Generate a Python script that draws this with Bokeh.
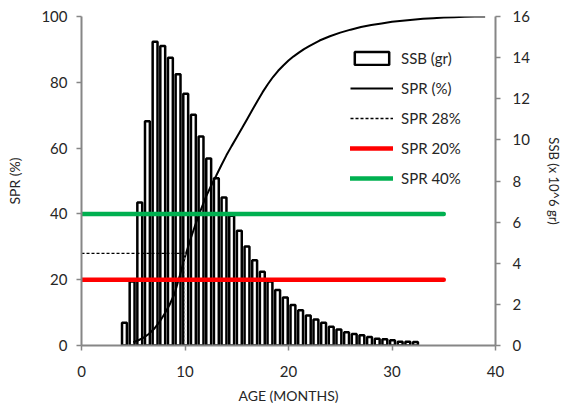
from bokeh.plotting import figure
from bokeh.models import Range1d, LinearAxis, Legend, LegendItem, FixedTicker
from bokeh.embed import file_html
from bokeh.resources import INLINE

# Bars: SSB (x10^6 gr) by age (months)
age_bar = [4.15, 4.89, 5.63, 6.37, 7.11, 7.85, 8.59, 9.33, 10.07, 10.81,
           11.55, 12.29, 13.03, 13.77, 14.51, 15.25, 15.99, 16.73, 17.47, 18.21,
           18.95, 19.69, 20.43, 21.17, 21.91, 22.65, 23.39, 24.13, 24.87, 25.61,
           26.35, 27.09, 27.83, 28.57, 29.31, 30.05, 30.79, 31.53, 32.27]
ssb = [1.11, 3.11, 6.96, 10.91, 14.77, 14.57, 14.0, 13.19, 12.24, 11.22,
       10.16, 9.1, 8.13, 7.2, 6.31, 5.58, 4.81, 4.15, 3.59, 3.11,
       2.70, 2.33, 1.97, 1.72, 1.46, 1.27, 1.11, 0.91, 0.78, 0.65,
       0.56, 0.50, 0.41, 0.33, 0.30, 0.26, 0.18, 0.18, 0.17]

# SPR (%) curve
age_spr = [5, 5.5, 6, 6.5, 7, 7.5, 8, 8.5, 9, 9.5, 10, 10.5, 11, 11.5, 12, 12.5,
           13, 13.5, 14, 14.5, 15, 15.5, 16, 16.5, 17, 17.5, 18, 18.5, 19, 19.5,
           20, 20.5, 21, 21.5, 22, 23, 24, 25, 26, 27, 28, 29, 30, 31, 32, 33,
           34, 35, 36, 37, 38, 39]
spr = [1.0, 1.6, 2.4, 3.5, 5.0, 7.0, 9.5, 12.3, 15.8, 21.3, 27.0, 32.0, 36.7,
       41.0, 45.0, 48.4, 51.5, 54.7, 57.8, 60.6, 63.3, 66.0, 68.8, 71.6, 74.3,
       77.0, 79.4, 81.6, 83.5, 85.1, 86.6, 87.9, 89.0, 90.1, 91.0, 92.7, 94.0,
       95.1, 96.0, 96.8, 97.4, 97.9, 98.4, 98.7, 99.0, 99.3, 99.5, 99.7, 99.8,
       99.9, 100.0, 100.0]

# Reference lines
ref28_x = [0, 10]
ref28_y = [28, 28]
ref28_vx = [10, 10]
ref28_vy = [28, 0]
ref20_x = [0, 35]
ref20_y = [20, 20]
ref40_x = [0, 35]
ref40_y = [40, 40]

x_ticks = [0, 10, 20, 30, 40]
left_ticks = [0, 20, 40, 60, 80, 100]
right_ticks = [0, 2, 4, 6, 8, 10, 12, 14, 16]

FONT = "Lato"
AXIS_GRAY = "#868686"

p = figure(frame_width=414, frame_height=329, output_backend="svg",
           toolbar_location=None, x_range=Range1d(0, 40), y_range=Range1d(0, 100),
           min_border_left=81, min_border_right=68, min_border_top=16,
           min_border_bottom=58)
p.extra_y_ranges = {"ssb": Range1d(0, 16)}
p.outline_line_color = None
p.xgrid.visible = False
p.ygrid.visible = False
p.background_fill_color = "white"

bars = p.vbar(x=age_bar, top=ssb, width=0.47, bottom=0, y_range_name="ssb",
              fill_color="white", line_color="black", line_width=2.5)
curve = p.line(age_spr, spr, line_color="black", line_width=2)
r28 = p.line(ref28_x, ref28_y, line_color="black", line_width=1.3, line_dash="3 2")
p.line(ref28_vx, ref28_vy, line_color="#c8c8c8", line_width=1, line_dash="2 2")
r20 = p.line(ref20_x, ref20_y, line_color="#FF0000", line_width=4.5, line_cap="round")
r40 = p.line(ref40_x, ref40_y, line_color="#00B050", line_width=4.5, line_cap="round")

def style_axis(ax, standoff, label_standoff, label_size="14px"):
    ax.axis_line_color = AXIS_GRAY
    ax.axis_line_width = 2
    ax.major_tick_line_color = AXIS_GRAY
    ax.major_tick_line_width = 1.5
    ax.major_tick_in = 0
    ax.major_tick_out = 5
    ax.minor_tick_line_color = None
    ax.major_label_text_font = FONT
    ax.major_label_text_font_size = "15px"
    ax.major_label_text_color = "#262626"
    ax.axis_label_text_font = FONT
    ax.axis_label_text_font_size = label_size
    ax.axis_label_text_font_style = "normal"
    ax.axis_label_text_color = "#262626"
    ax.major_label_standoff = standoff
    ax.axis_label_standoff = label_standoff

xa = p.xaxis[0]
xa.ticker = FixedTicker(ticks=x_ticks)
xa.axis_label = "AGE (MONTHS)"
style_axis(xa, 15, 7)

ya = p.yaxis[0]
ya.ticker = FixedTicker(ticks=left_ticks)
ya.axis_label = "SPR (%)"
style_axis(ya, 9, 15)

ra = LinearAxis(y_range_name="ssb", ticker=FixedTicker(ticks=right_ticks),
                axis_label="SSB (x 10^6 gr)")
style_axis(ra, 12, 13, "13px")
p.add_layout(ra, "right")

legend = Legend(items=[
    LegendItem(label="SSB (gr)", renderers=[bars]),
    LegendItem(label="SPR (%)", renderers=[curve]),
    LegendItem(label="SPR 28%", renderers=[r28]),
    LegendItem(label="SPR 20%", renderers=[r20]),
    LegendItem(label="SPR 40%", renderers=[r40]),
], location=(269, 158))
legend.border_line_color = None
legend.background_fill_alpha = 0
legend.padding = 0
legend.margin = 0
legend.spacing = 12
legend.glyph_width = 43
legend.glyph_height = 16
legend.label_height = 16
legend.label_standoff = 8
legend.label_text_font = FONT
legend.label_text_font_size = "15px"
legend.label_text_color = "#262626"
p.add_layout(legend, "center")

open("out.html", "w").write(file_html(p, INLINE))
